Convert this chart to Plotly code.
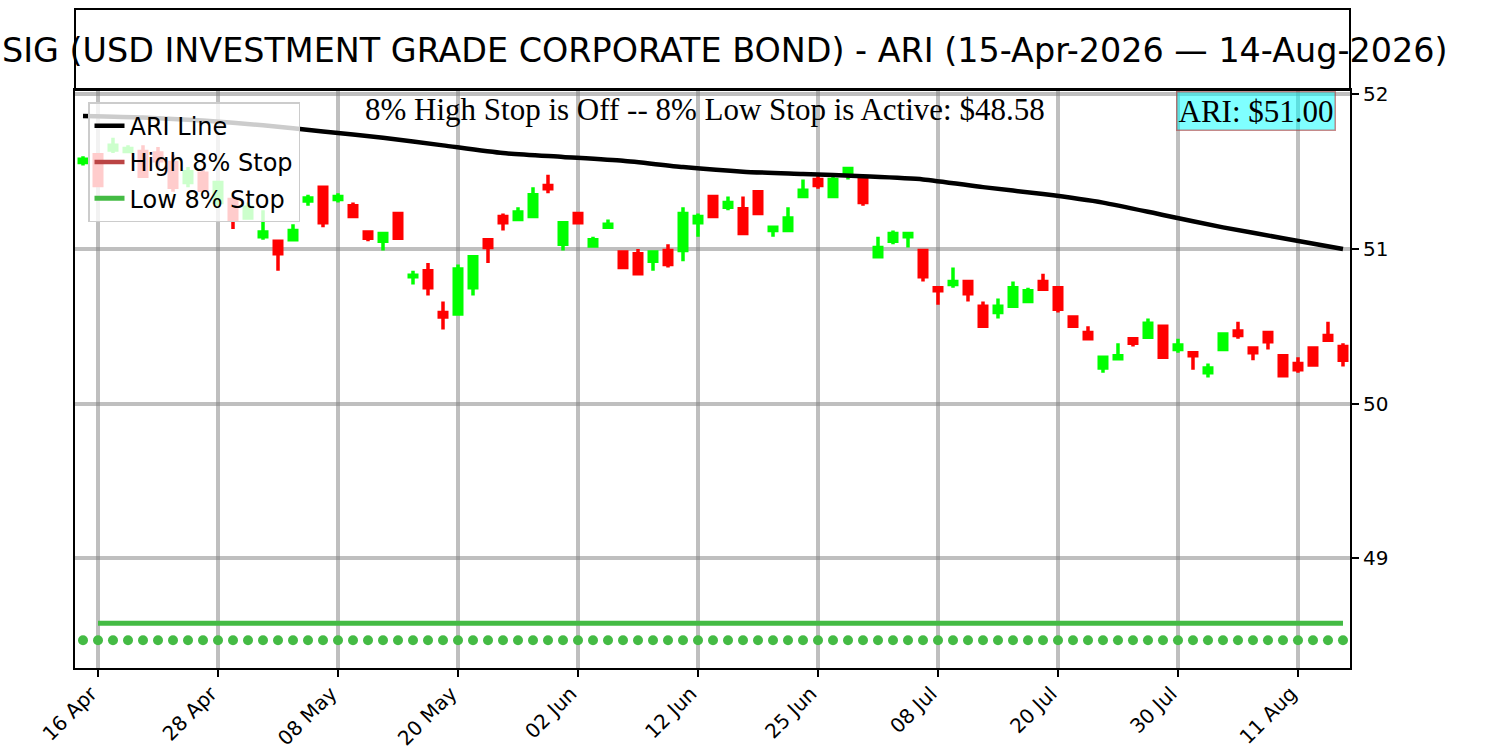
import pandas as pd
import plotly.graph_objects as go

# ---------------- data ----------------
HOLIDAYS = ["2026-05-25", "2026-06-19", "2026-07-03"]
days = pd.bdate_range("2026-04-15", "2026-08-14", freq="C", holidays=HOLIDAYS)
dates = [d.strftime("%Y-%m-%d") for d in days]

tick_labels = ["16 Apr", "28 Apr", "08 May", "20 May", "02 Jun", "12 Jun",
               "25 Jun", "08 Jul", "20 Jul", "30 Jul", "11 Aug"]

opens = [51.56, 51.61, 51.64, 51.63, 51.63, 51.62, 51.56, 51.43, 51.49, 51.30,
         51.32, 51.20, 51.08, 51.05, 51.06, 51.31, 51.40, 51.32, 51.28, 51.11,
         51.05, 51.23, 50.82, 50.86, 50.59, 50.58, 50.75, 51.06, 51.21, 51.19,
         51.21, 51.41, 51.03, 51.23, 51.02, 51.14, 50.98, 50.97, 50.92, 50.99,
         50.99, 51.17, 51.34, 51.27, 51.26, 51.37, 51.12, 51.12, 51.34, 51.45,
         51.34, 51.49, 51.46, 50.95, 51.05, 51.08, 50.99, 50.75, 50.77, 50.79,
         50.63, 50.59, 50.63, 50.66, 50.79, 50.75, 50.56, 50.46, 50.23, 50.29,
         50.42, 50.43, 50.50, 50.35, 50.33, 50.20, 50.35, 50.47, 50.36, 50.46,
         50.31, 50.26, 50.36, 50.44, 50.37]
highs = [51.60, 51.62, 51.72, 51.67, 51.67, 51.66, 51.61, 51.53, 51.51, 51.44,
         51.33, 51.30, 51.25, 51.06, 51.16, 51.35, 51.40, 51.36, 51.30, 51.11,
         51.10, 51.23, 50.86, 50.91, 50.66, 50.90, 50.95, 51.07, 51.23, 51.27,
         51.40, 51.48, 51.17, 51.23, 51.08, 51.19, 50.99, 51.00, 50.99, 51.03,
         51.27, 51.23, 51.34, 51.34, 51.34, 51.37, 51.14, 51.27, 51.45, 51.49,
         51.49, 51.52, 51.46, 51.08, 51.12, 51.10, 50.99, 50.75, 50.88, 50.79,
         50.66, 50.68, 50.79, 50.75, 50.84, 50.75, 50.56, 50.50, 50.31, 50.39,
         50.42, 50.55, 50.51, 50.42, 50.33, 50.26, 50.46, 50.53, 50.37, 50.47,
         50.31, 50.30, 50.36, 50.53, 50.39]
lows = [51.54, 51.41, 51.62, 51.62, 51.46, 51.52, 51.37, 51.40, 51.38, 51.28,
        51.13, 51.19, 51.06, 50.86, 51.06, 51.28, 51.14, 51.30, 51.21, 51.05,
        50.99, 51.07, 50.77, 50.70, 50.48, 50.58, 50.70, 50.91, 51.12, 51.19,
        51.21, 51.36, 50.99, 51.16, 51.01, 51.13, 50.88, 50.84, 50.86, 50.88,
        50.92, 51.08, 51.21, 51.25, 51.10, 51.23, 51.08, 51.12, 51.34, 51.39,
        51.34, 51.45, 51.28, 50.94, 51.03, 51.01, 50.79, 50.64, 50.75, 50.66,
        50.50, 50.55, 50.63, 50.65, 50.74, 50.59, 50.50, 50.42, 50.20, 50.29,
        50.37, 50.42, 50.30, 50.33, 50.22, 50.17, 50.35, 50.42, 50.28, 50.35,
        50.18, 50.20, 50.25, 50.41, 50.24]
closes = [51.58, 51.41, 51.67, 51.65, 51.47, 51.57, 51.40, 51.50, 51.38, 51.43,
          51.19, 51.27, 51.11, 50.97, 51.12, 51.33, 51.17, 51.34, 51.21, 51.07,
          51.10, 51.07, 50.83, 50.75, 50.56, 50.87, 50.95, 51.01, 51.17, 51.24,
          51.35, 51.39, 51.17, 51.17, 51.06, 51.16, 50.88, 50.84, 50.98, 50.90,
          51.23, 51.21, 51.21, 51.30, 51.10, 51.23, 51.14, 51.20, 51.38, 51.41,
          51.45, 51.52, 51.30, 51.01, 51.10, 51.10, 50.82, 50.73, 50.79, 50.71,
          50.50, 50.63, 50.75, 50.73, 50.74, 50.61, 50.50, 50.42, 50.30, 50.31,
          50.39, 50.52, 50.30, 50.38, 50.31, 50.23, 50.45, 50.44, 50.33, 50.40,
          50.18, 50.22, 50.25, 50.41, 50.28]

ari_idx = [0, 4, 8, 12, 16, 20, 24, 28, 32, 36, 40, 44, 48, 52, 56, 60, 64,
           68, 72, 76, 80, 84]
ari_vals = [51.86, 51.85, 51.83, 51.80, 51.76, 51.72, 51.67, 51.62, 51.595,
            51.57, 51.53, 51.50, 51.485, 51.47, 51.45, 51.40, 51.355, 51.30,
            51.22, 51.14, 51.07, 51.00]

LOW_STOP = 48.58
LOW_TRAIL = 48.47
ARI_LAST = 51.00

TITLE = "SIG (USD INVESTMENT GRADE CORPORATE BOND) - ARI (15-Apr-2026 \u2014 14-Aug-2026)"
SUBTITLE = "8% High Stop is Off -- 8% Low Stop is Active: ${:.2f}".format(LOW_STOP)
ARI_LABEL = "ARI: ${:.2f}".format(ARI_LAST)

# ---------------- figure ----------------
n = len(dates)
tickvals = [d for d, dd in zip(dates, days) if dd.strftime("%d %b") in tick_labels]

fig = go.Figure()

fig.add_trace(go.Candlestick(
    x=dates, open=opens, high=highs, low=lows, close=closes,
    increasing=dict(fillcolor="#00FF00", line=dict(color="#00FF00", width=3.5)),
    decreasing=dict(fillcolor="#FF0000", line=dict(color="#FF0000", width=3.5)),
    whiskerwidth=0, showlegend=False, name="ARI"))

fig.add_trace(go.Scatter(
    x=[dates[i] for i in ari_idx], y=ari_vals, mode="lines",
    line=dict(color="black", width=4.5, shape="spline", smoothing=0.6),
    name="ARI Line", legendgroup="a"))

# high stop is off: no values, legend entry only
fig.add_trace(go.Scatter(
    x=dates, y=[None] * n, mode="lines", line=dict(color="#BB4444", width=4.5),
    name="High 8% Stop", legendgroup="b"))

fig.add_trace(go.Scatter(
    x=[dates[1], dates[-1]], y=[LOW_STOP, LOW_STOP], mode="lines",
    line=dict(color="#44BB44", width=5), name="Low 8% Stop", legendgroup="c"))

fig.add_trace(go.Scatter(
    x=dates, y=[LOW_TRAIL] * n, mode="markers",
    marker=dict(color="#44BB44", size=10), showlegend=False))

W, H = 1500, 750
ML, MR, MT, MB = 75, 150, 90, 82
PLOT_H = H - MT - MB

fig.update_layout(
    width=W, height=H,
    margin=dict(l=ML, r=MR, t=MT, b=MB, autoexpand=False),
    paper_bgcolor="white", plot_bgcolor="white",
    font=dict(family="DejaVu Sans", size=20, color="black"),
    boxgap=0.5, boxgroupgap=0,
    showlegend=True,
    legend=dict(x=0.0102, y=0.979, xanchor="left", yanchor="top",
                bgcolor="rgba(255,255,255,0.8)", bordercolor="#cccccc",
                borderwidth=1.5, font=dict(size=24, family="DejaVu Sans"),
                itemwidth=30, tracegroupgap=2),
    xaxis=dict(type="category", range=[-0.533, n - 1 + 0.467],
               rangeslider=dict(visible=False), automargin=False,
               tickvals=tickvals, ticktext=tick_labels, tickangle=-45,
               ticklabelshift=-7, ticklabelstandoff=-3,
               ticks="outside", ticklen=7, tickwidth=1.5, tickcolor="black",
               showgrid=True, gridcolor="rgba(128,128,128,0.5)", gridwidth=4,
               showline=True, linecolor="black", linewidth=2, mirror=True,
               tickfont=dict(size=20), zeroline=False),
    yaxis=dict(side="right", range=[48.291, 52.028], automargin=False,
               tickvals=[49, 50, 51, 52], ticks="outside", ticklen=7,
               tickwidth=1.5, tickcolor="black",
               showgrid=True, gridcolor="rgba(128,128,128,0.5)", gridwidth=4,
               showline=True, linecolor="black", linewidth=2, mirror=True,
               tickfont=dict(size=20), zeroline=False),
    shapes=[dict(type="rect", xref="paper", yref="paper", x0=0, x1=1,
                 y0=1, y1=1 + 81 / PLOT_H, line=dict(color="black", width=2),
                 fillcolor="rgba(0,0,0,0)")],
    annotations=[
        dict(text=TITLE, xref="paper", yref="paper", x=0.5094,
             y=1 + 40 / PLOT_H, xanchor="center", yanchor="middle",
             showarrow=False, font=dict(size=33.4, family="DejaVu Sans")),
        dict(text=SUBTITLE, xref="paper", yref="paper", x=0.494,
             y=1 - 20 / PLOT_H, xanchor="center", yanchor="middle",
             showarrow=False, font=dict(size=31, family="Liberation Serif")),
        dict(text=ARI_LABEL, xref="paper", yref="paper",
             x=0.9263, y=1 - 21 / PLOT_H, xanchor="center", yanchor="middle",
             showarrow=False, font=dict(size=31, family="Liberation Serif"),
             bgcolor="rgba(0,255,255,0.5)", bordercolor="rgba(178,60,60,0.6)",
             borderwidth=1.5, borderpad=1),
    ],
)

fig.write_html("out.html", config={"displayModeBar": False},
               post_script="document.body.style.margin='0';"
                           "document.body.style.overflow='hidden';")
